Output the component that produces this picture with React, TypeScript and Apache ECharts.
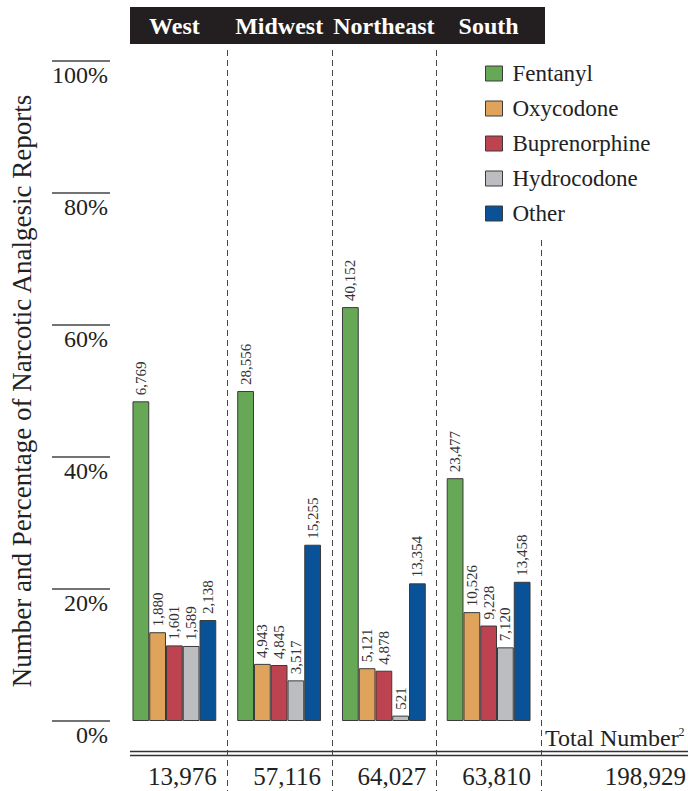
import React, { useEffect, useRef } from "react";
import * as echarts from "echarts";

const regions = ["West", "Midwest", "Northeast", "South"];
const fentanyl = [6769, 28556, 40152, 23477];
const oxycodone = [1880, 4943, 5121, 10526];
const buprenorphine = [1601, 4845, 4878, 9228];
const hydrocodone = [1589, 3517, 521, 7120];
const other = [2138, 15255, 13354, 13458];
const regionTotals = [13976, 57116, 64027, 63810];
const grandTotal = 198929;
const drugNames = ["Fentanyl", "Oxycodone", "Buprenorphine", "Hydrocodone", "Other"];
const drugCounts = [fentanyl, oxycodone, buprenorphine, hydrocodone, other];
const drugColors = ["#66A855", "#E0A35C", "#BE4350", "#BBBDC0", "#0A5298"];

const FONT = "'Liberation Serif', 'DejaVu Serif', serif";
const fmt = (n: number) => n.toLocaleString("en-US");

export default function App() {
  const ref = useRef<HTMLDivElement>(null);
  useEffect(() => {
    document.body.style.margin = "0";
    const chart = echarts.init(ref.current!, null, { renderer: "svg" });
    const series = drugNames.map((name, si) => ({
      name,
      type: "bar",
      xAxisIndex: 0,
      yAxisIndex: 0,
      barGap: "0%",
      barCategoryGap: "20%",
      itemStyle: { color: drugColors[si], borderColor: "#3a3a3a", borderWidth: 1 },
      label: {
        show: true,
        position: "top",
        rotate: 90,
        align: "left",
        verticalAlign: "middle",
        distance: 6,
        fontFamily: FONT,
        fontSize: 15,
        color: "#333",
        formatter: (p: any) => fmt(drugCounts[si][p.dataIndex]),
      },
      data: drugCounts[si].map((c, i) => (c / regionTotals[i]) * 100),
    }));
    chart.setOption({
      animation: false,
      textStyle: { fontFamily: FONT },
      grid: { left: 122, right: 147, top: 61, bottom: 70, outerBoundsMode: "none", containLabel: false },
      legend: {
        orient: "vertical",
        left: 480,
        top: 57,
        itemWidth: 17,
        itemHeight: 15,
        itemGap: 12,
        icon: "rect",
        itemStyle: { borderColor: "#3a3a3a", borderWidth: 1 },
        textStyle: { fontFamily: FONT, fontSize: 23, color: "#222", lineHeight: 20, padding: [0, 0, 0, 5] },
        data: drugNames,
      },
      xAxis: [
        {
          type: "category",
          data: regions,
          position: "top",
          z: 5,
          axisLine: { show: false },
          axisTick: { show: false },
          axisLabel: { interval: 0, margin: 23, color: "#fff", fontSize: 24, fontWeight: "bold", fontFamily: FONT },
        },
        {
          type: "category",
          data: regions,
          position: "bottom",
          axisLine: { show: false },
          axisTick: { show: false },
          axisLabel: {
            interval: 0,
            margin: 43,
            color: "#222",
            fontSize: 25,
            fontFamily: FONT,
            padding: [0, 0, 0, 16],
            formatter: (v: string, i: number) => fmt(regionTotals[i]),
          },
        },
      ],
      yAxis: [
        {
          type: "value",
          min: 0,
          max: 100,
          interval: 20,
          name: "Number and Percentage of Narcotic Analgesic Reports",
          nameLocation: "middle",
          nameRotate: 90,
          nameGap: 87,
          nameTextStyle: { fontSize: 27, color: "#222", fontFamily: FONT },
          axisLine: { show: false },
          axisTick: { show: false },
          splitLine: { show: false },
          axisLabel: {
            margin: 14,
            color: "#222",
            fontSize: 24,
            fontFamily: FONT,
            verticalAlign: "top",
            padding: [2, 0, 0, 0],
            formatter: (v: number) => v + "%",
          },
        },
        {
          type: "value",
          min: 0,
          max: 100,
          interval: 20,
          position: "left",
          offset: 12,
          axisLine: { show: false },
          axisLabel: { show: false },
          splitLine: { show: false },
          axisTick: { show: true, length: 58, lineStyle: { color: "#444", width: 1.5 } },
        },
      ],
      series,
    });

    const centers = regions.map((r) => chart.convertToPixel({ xAxisIndex: 0 }, r) as number);
    const bw = centers[1] - centers[0];
    const graphics: any[] = [
      {
        type: "rect",
        z: -10,
        shape: { x: 130, y: 7, width: 415, height: 37 },
        style: { fill: "#231F20" },
      },
      {
        type: "line",
        shape: { x1: 130, y1: 751.5, x2: 688, y2: 751.5 },
        style: { stroke: "#333", lineWidth: 1.3 },
      },
      {
        type: "line",
        shape: { x1: 130, y1: 755.5, x2: 688, y2: 755.5 },
        style: { stroke: "#333", lineWidth: 1.3 },
      },
      {
        type: "text",
        x: 545,
        y: 738,
        style: {
          text: "Total Number{sup|2}",
          fill: "#222",
          font: `24px ${FONT}`,
          verticalAlign: "middle",
          rich: { sup: { fontSize: 12, verticalAlign: "top", padding: [0, 0, 10, 0], fill: "#222", fontFamily: FONT } },
        },
      },
      {
        type: "text",
        x: 686,
        y: 776,
        style: {
          text: fmt(grandTotal),
          fill: "#222",
          font: `25px ${FONT}`,
          align: "right",
          verticalAlign: "middle",
        },
      },
    ];
    centers.forEach((c, i) => {
      const x = Math.round(c + bw / 2) + 0.5;
      graphics.push({
        type: "line",
        shape: { x1: x, y1: i === 3 ? 240 : 50, x2: x, y2: 791 },
        style: { stroke: "#444", lineWidth: 1, lineDash: [6, 4] },
      });
    });
    chart.setOption({ graphic: graphics });

    return () => chart.dispose();
  }, []);
  return <div ref={ref} style={{ width: 688, height: 791 }} />;
}
